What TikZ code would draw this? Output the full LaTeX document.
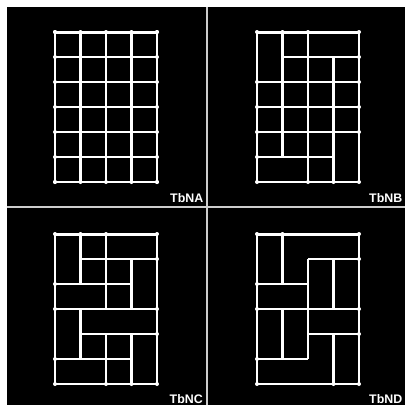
\documentclass[tikz,border=0pt]{standalone}
\usepackage{fontspec}
\setmainfont{Liberation Sans}
\definecolor{sepgray}{RGB}{205,205,205}
\begin{document}
\begin{tikzpicture}[x=1pt,y=-1pt,
    gridline/.style={white, line width=2.2pt},
    thickline/.style={white, line width=3pt},
    panellabel/.style={white, font=\fontsize{12.4}{14}\selectfont\bfseries, inner sep=0pt, anchor=base east}]
    % Khung trang 405 x 405, nen trang, bon o den
    \useasboundingbox (0,0) rectangle (405,405);
    \fill[white] (0,0) rectangle (405,405);
    \fill[black] (7,7) rectangle (405,405);

    % Duong phan cach giua cac o
    \draw[sepgray, line width=2.4pt] (207,7) -- (207,405);
    \draw[sepgray, line width=2.4pt] (7,207) -- (405,207);

    % O A: luoi day du 4 cot x 6 hang
    \begin{scope}[shift={(55,32)}, x=25.5pt, y=-25pt]
        \foreach \r in {1,...,6} \draw[gridline] (0,\r) -- (4,\r);
        \foreach \c in {0,2,3,4} \draw[gridline] (\c,0) -- (\c,6);
        \draw[thickline] (0,0) -- (4,0);
        \draw[thickline] (1,0) -- (1,6);
        \foreach \r in {0,...,6} {
            \fill[white] (0,\r) circle (2pt);
            \fill[white] (4,\r) circle (2pt);
        }
        \foreach \c in {0,...,4} {
            \fill[white] (\c,0) circle (2pt);
            \fill[white] (\c,6) circle (2pt);
        }
    \end{scope}

    % O B
    \begin{scope}[shift={(257,32)}, x=25.5pt, y=-25pt]
        \foreach \a/\b/\r in {1/4/1, 0/4/2, 0/4/3, 0/4/4, 0/3/5, 0/4/6}
            \draw[gridline] (\a,\r) -- (\b,\r);
        \foreach \c/\a/\b in {0/0/6, 2/0/6, 3/1/6, 4/0/6}
            \draw[gridline] (\c,\a) -- (\c,\b);
        \draw[thickline] (0,0) -- (4,0);
        \draw[thickline] (1,0) -- (1,5);
        \foreach \p in {(0,0),(0,2),(0,3),(0,4),(0,5),(0,6),
                        (4,0),(4,1),(4,2),(4,3),(4,4),(4,6),
                        (1,0),(2,0),(2,6),(3,6)}
            \fill[white] \p circle (2pt);
    \end{scope}

    % O C
    \begin{scope}[shift={(55,234)}, x=25.5pt, y=-25pt]
        \foreach \a/\b/\r in {1/4/1, 0/3/2, 0/4/3, 1/4/4, 0/3/5, 0/4/6}
            \draw[gridline] (\a,\r) -- (\b,\r);
        \foreach \c/\a/\b in {0/0/6, 2/0/3, 2/4/6, 3/1/3, 3/4/6, 4/0/6}
            \draw[gridline] (\c,\a) -- (\c,\b);
        \draw[thickline] (0,0) -- (4,0);
        \draw[thickline] (1,0) -- (1,2);
        \draw[thickline] (1,3) -- (1,5);
        \foreach \p in {(0,0),(0,2),(0,3),(0,5),(0,6),
                        (4,0),(4,1),(4,3),(4,4),(4,6),
                        (1,0),(2,0),(2,6),(3,6)}
            \fill[white] \p circle (2pt);
    \end{scope}

    % O D
    \begin{scope}[shift={(257,234)}, x=25.5pt, y=-25pt]
        \foreach \a/\b/\r in {2/4/1, 0/2/2, 0/4/3, 2/4/4, 0/2/5, 0/4/6}
            \draw[gridline] (\a,\r) -- (\b,\r);
        \foreach \c/\a/\b in {0/0/6, 2/1/5, 3/1/3, 3/4/6, 4/0/6}
            \draw[gridline] (\c,\a) -- (\c,\b);
        \draw[thickline] (0,0) -- (4,0);
        \draw[thickline] (1,0) -- (1,2);
        \draw[thickline] (1,3) -- (1,5);
        \foreach \p in {(0,0),(0,2),(0,3),(0,5),(0,6),
                        (4,0),(4,1),(4,3),(4,4),(4,6),
                        (1,0),(3,6)}
            \fill[white] \p circle (2pt);
    \end{scope}

    % Nhan cac o
    \node[panellabel] (labA) at (203.5,202) {TbNA};
    \node[panellabel] (labB) at (402.5,202) {TbNB};
    \node[panellabel] (labC) at (203,403) {TbNC};
    \node[panellabel] (labD) at (402.5,403) {TbND};
\end{tikzpicture}
\end{document}
